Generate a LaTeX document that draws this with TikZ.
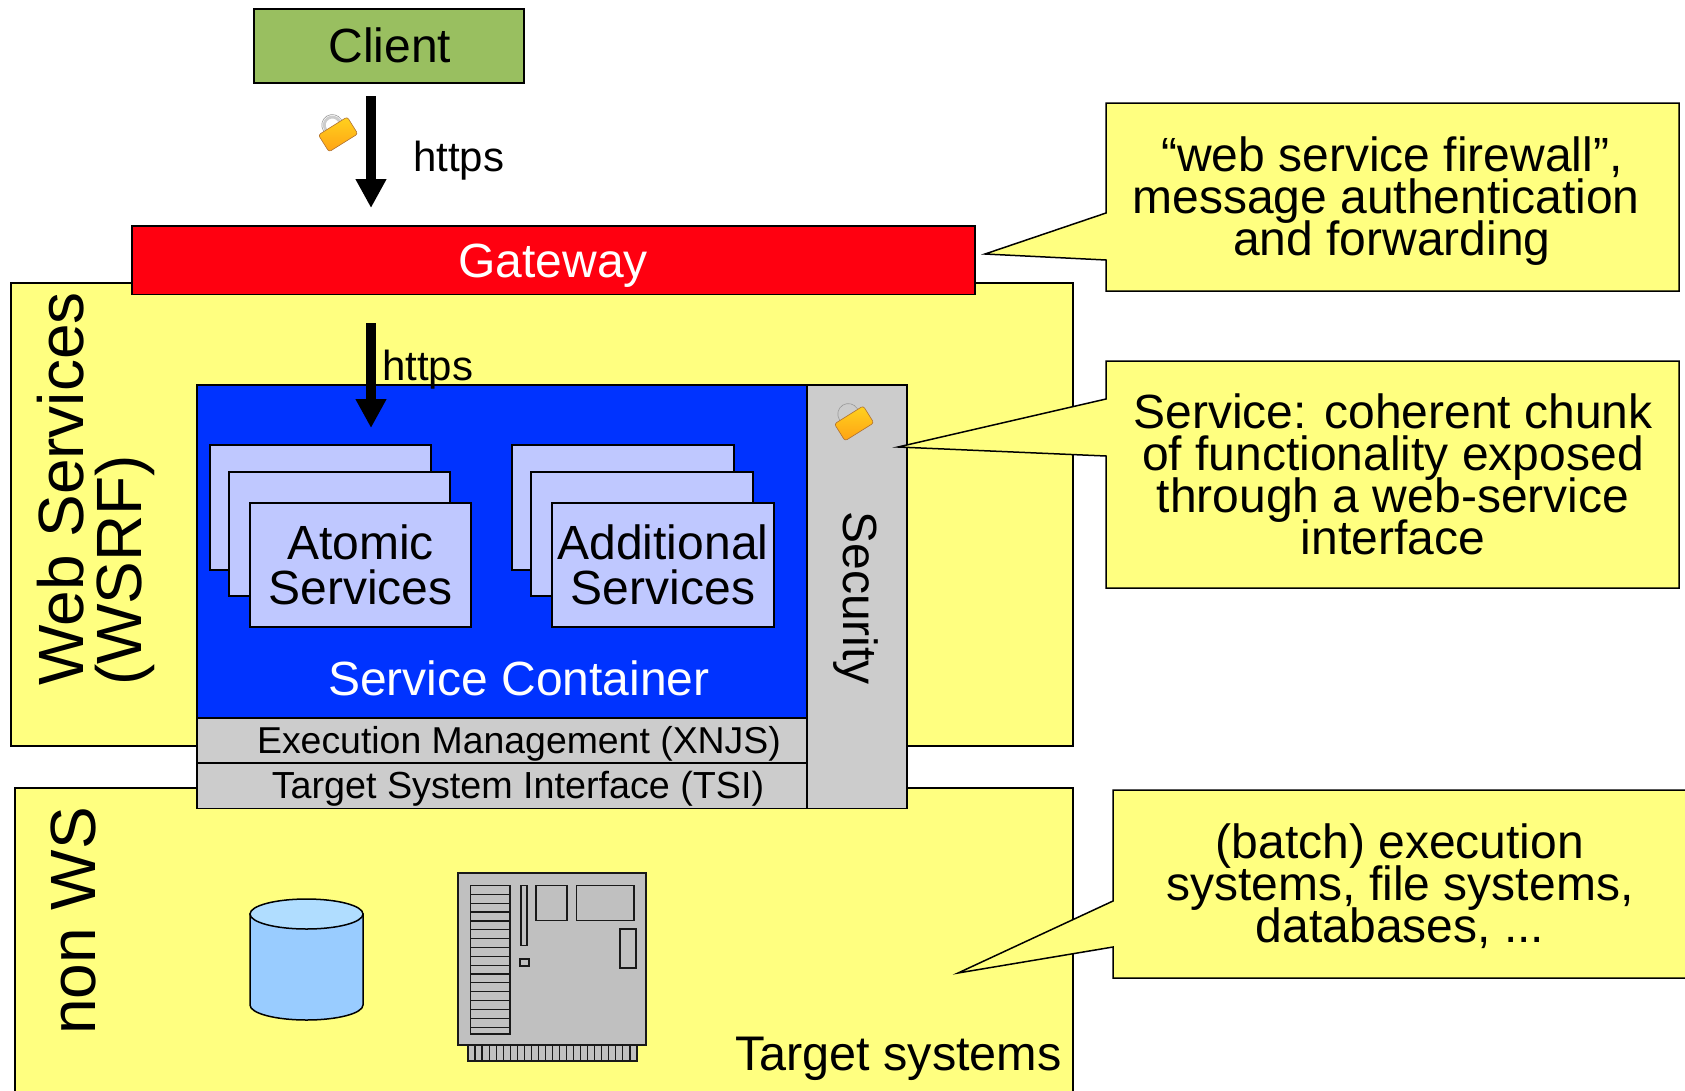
\documentclass[tikz,border=0pt]{standalone}
\usepackage{fontspec}
\setmainfont{Liberation Sans}
\usetikzlibrary{arrows.meta,calc}
\definecolor{wsyellow}{HTML}{FFFF80}
\definecolor{clientgreen}{HTML}{99BF60}
\definecolor{gatered}{HTML}{FF0010}
\definecolor{contblue}{HTML}{0033FF}
\definecolor{svc}{HTML}{BFC8FF}
\definecolor{lgrey}{HTML}{CCCCCC}
\definecolor{cardgrey}{HTML}{C0C0C0}
\definecolor{cylblue}{HTML}{99CCFF}
\definecolor{cyltop}{HTML}{B0DDFF}
\definecolor{locktop}{HTML}{FFD21E}
\definecolor{lockbot}{HTML}{FFA214}
\newcommand{\fs}[1]{\fontsize{#1}{#1}\selectfont}
\newcommand{\fl}[2]{\fontsize{#1}{#2}\selectfont\lineskiplimit=-100pt\relax}
\newcommand{\pbox}[5][]{\node[box,#1,minimum width=#4-#2,minimum height=#5-#3] at ($(#2,#3)!.5!(#4,#5)$)}
\tikzset{
  x=1pt,y=-1pt,
  box/.style={draw=black,line width=1.5pt,inner sep=0pt,outer sep=0pt,anchor=center,align=center},
  callout/.style={draw=black,line width=1.5pt,fill=wsyellow,line join=miter},
  callouttext/.style={align=center,inner sep=0pt,font=\fl{48}{42}},
  flow/.style={line width=10pt,-{Triangle[length=29pt,width=29pt]}},
  cardline/.style={draw=black!90,line width=1.2pt},
  lockicon/.pic={
    \begin{scope}[rotate=32]
      \draw[line width=2.8pt,color=black!20] (-8,-3) -- (-8,-7) arc[start angle=180,end angle=0,radius=8pt] -- (8,-3);
      \draw[line width=.6pt,color=black!40] (-10.5,-3) -- (-10.5,-7) arc[start angle=180,end angle=0,radius=10.5pt] -- (10.5,-3);
      \shade[top color=locktop,bottom color=lockbot,draw=orange!60!black!80,line width=.6pt,rounded corners=2.5pt] (-17,-6) rectangle (17,14);
    \end{scope}
  }
}
\begin{document}
\begin{tikzpicture}
\useasboundingbox (0,0) rectangle (1685,1090);
% background areas
\pbox[fill=wsyellow,name=ws]{11}{283}{1073}{746} {};
\draw[fill=wsyellow,line width=1.5pt] (15,1095) -- (15,788) -- (1073,788) -- (1073,1095);
% client and gateway
\pbox[fill=clientgreen,name=client]{254}{9}{524}{83} {};
\node[inner sep=0pt] (clienttext) at (390,45) {\fs{48}Client};
\pbox[fill=gatered,name=gateway]{132}{226}{975}{294.5} {};
\node[inner sep=0pt,text=white] (gatetext) at (553,266) {\fs{48}Gateway};
% flow arrows
\coordinate (a1s) at (371,96); \coordinate (a1e) at (371,208);
\draw[flow] (a1s) -- (a1e);
\node[anchor=west,inner sep=0pt] (https1) at (413,161) {\fs{42}https};
\pic at (336,131) {lockicon};
% container
\pbox[fill=contblue,name=container]{197}{385}{807}{718} {};
\pbox[fill=lgrey,name=security]{807}{385}{907}{808.5} {};
\node[rotate=-90,inner sep=0pt] (sectext) at (856,598) {\fs{48}Security};
\pbox[fill=lgrey,name=xnjs]{197}{718}{807}{763} {};
\pbox[fill=lgrey,name=tsi]{197}{763}{807}{808.5} {};
\node[inner sep=0pt] (xnjstext) at (519,744) {\fs{37.4}Execution Management (XNJS)};
\node[inner sep=0pt] (tsitext) at (518,789) {\fs{37.7}Target System Interface (TSI)};
\pic at (852,420) {lockicon};
\coordinate (a2s) at (371,323); \coordinate (a2e) at (371,428);
\draw[flow] (a2s) -- (a2e);
\node[anchor=west,inner sep=0pt] (https2) at (382,370) {\fs{42}https};
% services
\pbox[name=a1,fill=svc]{210}{445}{431}{570} {};
\pbox[name=a2,fill=svc]{229}{472}{450}{596} {};
\pbox[name=a3,fill=svc,font=\fl{48}{45}]{250}{503}{471}{627} {Atomic\\Services};
\pbox[name=b1,fill=svc]{512}{445}{734}{570} {};
\pbox[name=b2,fill=svc]{531}{472}{753}{596} {};
\pbox[name=b3,fill=svc,font=\fl{48}{45}]{552}{503}{774}{627} {Additional\\Services};
\node[text=white,inner sep=0pt] (sc) at (519,678) {\fs{48}Service Container};
% rotated labels
\node[rotate=90,align=left,inner sep=0pt,font=\fl{64}{58}] (wslabel) at (96,489) {Web Services\\(WSRF)};
\node[rotate=90,inner sep=0pt] (nwslabel) at (73,921) {\fs{64}non WS};
\node[anchor=south east,inner sep=0pt] (target) at (1062,1081) {\fs{48.6}Target systems};
% callouts
\coordinate (t1) at (985,254);
\draw[callout] (1106,213) -- (1106,103) -- (1679,103) -- (1679,291) -- (1106,291) -- (1106,260) -- (t1) -- cycle;
\node[callouttext] (c1) at (1392,201) {“web service firewall”,\\message authentication\kern12pt\null\\and forwarding};
\coordinate (t2) at (898,447);
\draw[callout] (1106,399) -- (1106,361) -- (1679,361) -- (1679,588) -- (1106,588) -- (1106,456) -- (t2) -- cycle;
\node[callouttext] (c2) at (1393,474) {Service: coherent chunk\\of functionality exposed\\through a web-service\\interface};
\coordinate (t3) at (958,973);
\draw[callout] (1113,901) -- (1113,790) -- (1690,790) -- (1690,978) -- (1113,978) -- (1113,947) -- (t3) -- cycle;
\node[callouttext] (c3) at (1400,886) {(batch) execution\\systems, file systems,\\databases, ...};
% cylinder
\draw[line width=1.5pt,fill=cylblue] (250,914) -- (250,1005) arc[start angle=180,end angle=0,x radius=56.5pt,y radius=-15pt] -- (363,914) -- cycle;
\draw[line width=1.5pt,fill=cyltop] (306.5,914) ellipse[x radius=56.5pt,y radius=15pt];
% card
\draw[cardline,fill=cardgrey] (458,873) rectangle (646,1045);
\draw[cardline,fill=cardgrey] (468,1045) rectangle (637,1061);
\foreach \i in {0,...,24} \draw[cardline] ({468+\i*7.04},1045) -- ({468+\i*7.04},1061);
\draw[cardline] (470.5,885.5) rectangle (510,1034);
\foreach \i in {1,...,16} \draw[cardline] (470.5,{885.5+\i*8.85}) -- (510,{885.5+\i*8.85});
\draw[cardline] (521,885.5) rectangle (527,945.5);
\draw[cardline] (520,959) rectangle (529,966);
\draw[cardline] (536,885.5) rectangle (567,920.5);
\draw[cardline] (576.5,885.5) rectangle (634,920.5);
\draw[cardline] (620,929) rectangle (636,968);
\end{tikzpicture}
\end{document}
